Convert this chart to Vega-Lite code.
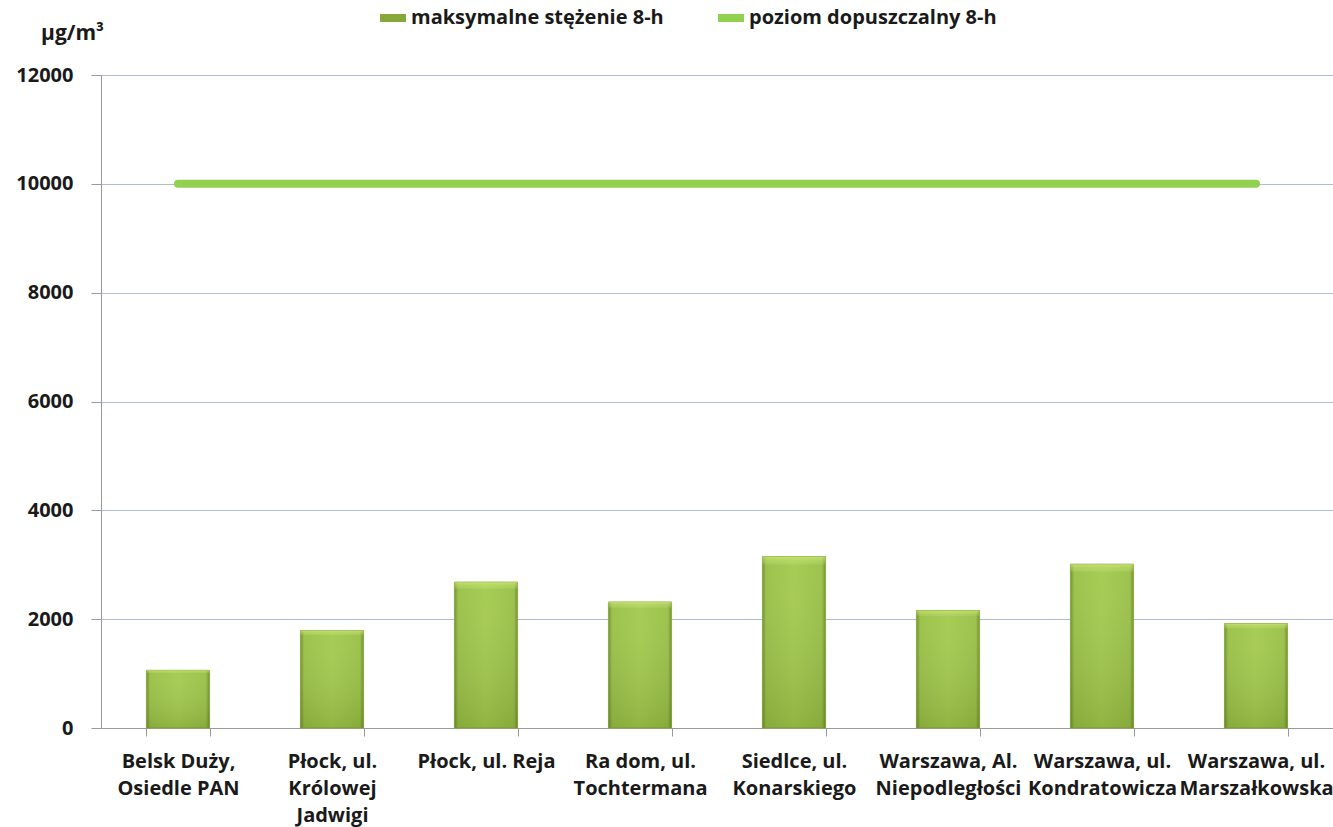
{
  "$schema": "https://vega.github.io/schema/vega-lite/v6.json",
  "autosize": {"type": "none"},
  "width": 1232,
  "height": 653,
  "padding": {"left": 101, "top": 75, "right": 0, "bottom": 99},
  "background": "white",
  "config": {
    "font": "Open Sans",
    "view": {"stroke": null},
    "axis": {"labelFont": "Open Sans", "titleFont": "Open Sans"},
    "legend": {"labelFont": "Open Sans"}
  },
  "data": {
    "values": [
      {"stacja": "Belsk Duży,\nOsiedle PAN", "max8h": 1060, "dopuszczalny": 10000},
      {"stacja": "Płock, ul.\nKrólowej\nJadwigi", "max8h": 1790, "dopuszczalny": 10000},
      {"stacja": "Płock, ul. Reja", "max8h": 2680, "dopuszczalny": 10000},
      {"stacja": "Ra dom, ul.\nTochtermana", "max8h": 2315, "dopuszczalny": 10000},
      {"stacja": "Siedlce, ul.\nKonarskiego", "max8h": 3150, "dopuszczalny": 10000},
      {"stacja": "Warszawa, Al.\nNiepodległości", "max8h": 2160, "dopuszczalny": 10000},
      {"stacja": "Warszawa, ul.\nKondratowicza", "max8h": 3010, "dopuszczalny": 10000},
      {"stacja": "Warszawa, ul.\nMarszałkowska", "max8h": 1920, "dopuszczalny": 10000}
    ]
  },
  "encoding": {
    "x": {
      "field": "stacja",
      "type": "nominal",
      "sort": null,
      "scale": {"paddingInner": 0.59, "paddingOuter": 0.295},
      "axis": {
        "title": null,
        "labelAngle": 0,
        "labelExpr": "split(datum.label, '\\n')",
        "labelFontSize": 20,
        "labelFontWeight": "bold",
        "labelColor": "#1a1a1a",
        "labelLineHeight": 27,
        "labelPadding": 15,
        "labelBaseline": "top",
        "labelLimit": 300,
        "tickBand": "extent",
        "tickSize": 8,
        "tickColor": "#9a9a9a",
        "domainColor": "#9a9a9a",
        "grid": false
      }
    }
  },
  "layer": [
    {
      "mark": {
        "type": "bar",
        "strokeWidth": 1,
        "fill": {
          "gradient": "linear",
          "x1": 0, "y1": 0, "x2": 1, "y2": 0,
          "stops": [
            {"offset": 0, "color": "#6f8b2e"},
            {"offset": 0.06, "color": "#98bf44"},
            {"offset": 0.5, "color": "#a3ca4c"},
            {"offset": 0.94, "color": "#98bf44"},
            {"offset": 1, "color": "#6f8b2e"}
          ]
        }
      },
      "encoding": {
        "y": {
          "field": "max8h",
          "type": "quantitative",
          "scale": {"domain": [0, 12000]},
          "axis": {
            "title": "µg/m³",
            "titleAngle": 0,
            "titleX": -29,
            "titleY": -42,
            "titleAlign": "center",
            "titleBaseline": "middle",
            "titleFontSize": 21,
            "titleFontWeight": "bold",
            "titleColor": "#1a1a1a",
            "values": [0, 2000, 4000, 6000, 8000, 10000, 12000],
            "format": "d",
            "labelFontSize": 20,
            "labelFontWeight": "bold",
            "labelColor": "#1a1a1a",
            "labelPadding": 18,
            "tickSize": 10,
            "tickColor": "#9a9a9a",
            "domainColor": "#9a9a9a",
            "gridColor": "#b0bdd0",
            "gridWidth": 1
          }
        },
        "stroke": {
          "datum": "maksymalne stężenie 8-h",
          "type": "nominal",
          "scale": {
            "domain": ["maksymalne stężenie 8-h", "poziom dopuszczalny 8-h"],
            "range": ["#86a838", "#92d050"]
          },
          "legend": {
            "title": null,
            "orient": "none",
            "direction": "horizontal",
            "legendX": 275,
            "legendY": -74,
            "symbolType": "stroke",
            "symbolSize": 676,
            "symbolStrokeWidth": 8,
            "labelFontSize": 20,
            "labelFontWeight": "bold",
            "labelColor": "#1a1a1a",
            "labelOffset": 1,
            "columnPadding": 38,
            "labelLimit": 400
          }
        }
      }
    },
    {
      "mark": {
        "type": "bar",
        "fill": {
          "gradient": "linear",
          "x1": 0, "y1": 0, "x2": 0, "y2": 1,
          "stops": [
            {"offset": 0, "color": "rgba(225,245,150,0.6)"},
            {"offset": 0.025, "color": "rgba(205,235,120,0.4)"},
            {"offset": 0.05, "color": "rgba(255,255,255,0.05)"},
            {"offset": 1, "color": "rgba(60,80,20,0.18)"}
          ]
        }
      },
      "encoding": {
        "y": {"field": "max8h", "type": "quantitative"}
      }
    },
    {
      "mark": {"type": "line", "strokeWidth": 8, "strokeCap": "round"},
      "encoding": {
        "y": {"field": "dopuszczalny", "type": "quantitative"},
        "stroke": {"datum": "poziom dopuszczalny 8-h", "type": "nominal"}
      }
    }
  ]
}
